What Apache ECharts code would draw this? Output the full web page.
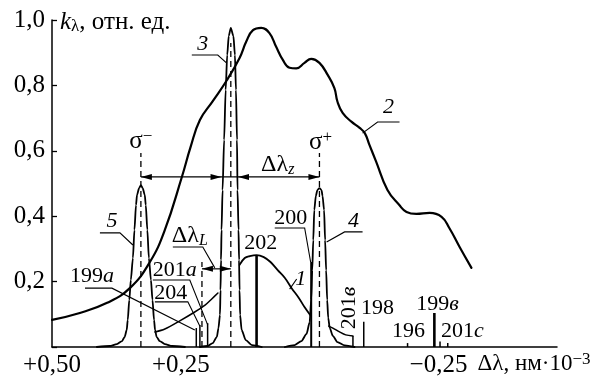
<!DOCTYPE html>
<html>
<head>
<meta charset="utf-8">
<script src="https://cdn.jsdelivr.net/npm/echarts@6/dist/echarts.min.js"></script>
<style>
  html, body { margin: 0; padding: 0; background: #fff; }
  #chart { width: 590px; height: 378px; }
</style>
</head>
<body>
<div id="chart"></div>
<script>
// ---- data: Δλ (нм·10^-3) against kλ (relative units) ----
const xTickValues = [0.5, 0.25, -0.25];
const xTickLabels = ['+0,50', '+0,25', '−0,25'];
const yTickValues = [0.2, 0.4, 0.6, 0.8, 1.0];
const yTickLabels = ['0,2', '0,4', '0,6', '0,8', '1,0'];

// curve 2: broad absorption contour
const curve2 = [
  [0.500, 0.083], [0.446, 0.104], [0.393, 0.135], [0.349, 0.180], [0.310, 0.260],
  [0.281, 0.358], [0.248, 0.520], [0.231, 0.612], [0.213, 0.694], [0.188, 0.752],
  [0.161, 0.815], [0.136, 0.884], [0.123, 0.934], [0.110, 0.969], [0.094, 0.976],
  [0.078, 0.960], [0.065, 0.918], [0.052, 0.878], [0.039, 0.854], [0.026, 0.852],
  [0.010, 0.869], [-0.003, 0.881], [-0.019, 0.869], [-0.035, 0.832], [-0.048, 0.792],
  [-0.054, 0.750], [-0.064, 0.716], [-0.081, 0.689], [-0.097, 0.670], [-0.107, 0.654],
  [-0.116, 0.618], [-0.129, 0.567], [-0.151, 0.480], [-0.174, 0.434], [-0.188, 0.413],
  [-0.207, 0.407], [-0.233, 0.410], [-0.256, 0.398], [-0.271, 0.364], [-0.291, 0.306],
  [-0.314, 0.242]
];

// curve 1: contour of the 202 line
const curve1 = [
  [0.136, 0.251], [0.126, 0.272], [0.116, 0.278], [0.103, 0.281], [0.089, 0.275],
  [0.076, 0.260], [0.062, 0.235], [0.048, 0.211], [0.035, 0.180], [0.021, 0.150],
  [0.010, 0.122], [-0.001, 0.098]
];

// curve 3: π component
const peak3 = [
  [0.213, 0.000], [0.198, 0.003], [0.188, 0.012], [0.180, 0.031], [0.177, 0.058],
  [0.174, 0.098], [0.173, 0.174], [0.172, 0.266], [0.171, 0.358], [0.169, 0.480],
  [0.166, 0.633], [0.163, 0.786], [0.160, 0.893], [0.157, 0.951], [0.153, 0.976],
  [0.148, 0.951], [0.145, 0.893], [0.143, 0.786], [0.141, 0.633], [0.140, 0.480],
  [0.138, 0.358], [0.137, 0.266], [0.136, 0.174], [0.135, 0.098], [0.132, 0.052],
  [0.124, 0.021], [0.112, 0.006], [0.093, 0.000]
];

// curve 4: σ+ component
const peak4 = [
  [0.048, 0.000], [0.029, 0.006], [0.016, 0.018], [0.006, 0.040], [0.000, 0.076],
  [-0.003, 0.144], [-0.005, 0.235], [-0.007, 0.327], [-0.009, 0.419], [-0.012, 0.462],
  [-0.015, 0.480], [-0.019, 0.486], [-0.023, 0.480], [-0.025, 0.462], [-0.028, 0.419],
  [-0.030, 0.327], [-0.032, 0.235], [-0.034, 0.144], [-0.036, 0.089], [-0.039, 0.058],
  [-0.045, 0.034], [-0.054, 0.015], [-0.068, 0.005], [-0.087, 0.000]
];
const wing4 = [[-0.037, 0.064], [-0.045, 0.058], [-0.058, 0.046], [-0.070, 0.037], [-0.084, 0.034]];

// curve 5: σ− component
const peak5 = [
  [0.413, 0.000], [0.388, 0.003], [0.374, 0.009], [0.364, 0.018], [0.359, 0.031],
  [0.355, 0.052], [0.353, 0.083], [0.350, 0.144], [0.347, 0.205], [0.343, 0.272],
  [0.340, 0.358], [0.337, 0.434], [0.335, 0.465], [0.331, 0.486], [0.3275, 0.495],
  [0.324, 0.486], [0.320, 0.465], [0.318, 0.434], [0.315, 0.358], [0.312, 0.272],
  [0.308, 0.205], [0.305, 0.144], [0.302, 0.083], [0.300, 0.052], [0.297, 0.031],
  [0.291, 0.018], [0.281, 0.009], [0.267, 0.003], [0.242, 0.000]
];
const wing5 = [[0.300, 0.046], [0.281, 0.055], [0.252, 0.080], [0.223, 0.107], [0.203, 0.128], [0.190, 0.147], [0.178, 0.165]];

// isotope line positions and intensities
const lineNames   = ['199a', '204', '201a', '202', '200', '201в', '198', '196', '199в', '201c', '201c'];
const linePos     = [0.220, 0.213, 0.198, 0.103, -0.003, -0.084, -0.105, -0.190, -0.242, -0.253, -0.268];
const lineHeights = [0.058, 0.067, 0.073, 0.281, 0.260, 0.034, 0.077, 0.012, 0.104, 0.017, 0.012];

// reference (dashed) positions: σ−, π centre, σ+, 201a reference
const markerPos = [0.3275, 0.153, -0.019, 0.209];
const markerTop = [0.593, 0.930, 0.593, 0.260];

// ---- presentation ----
const FONT = '"Liberation Serif", "Times New Roman", serif';
const stickWidth = lineNames.map(n => (n === '202' || n === '199в') ? 2.6 : (n === '200' ? 2.0 : 1.5));

const rich = {
  s:  { fontSize: 25, fontFamily: FONT, lineHeight: 26 },
  p:  { fontSize: 17, fontFamily: FONT, lineHeight: 14, verticalAlign: 'top' },
  m:  { fontSize: 24, fontFamily: FONT, lineHeight: 26 },
  i:  { fontSize: 16, fontFamily: FONT, fontStyle: 'italic', lineHeight: 14, verticalAlign: 'bottom' },
  c:  { fontSize: 22, fontFamily: FONT, fontStyle: 'italic' },
  n:  { fontSize: 22, fontFamily: FONT },
  c2: { fontSize: 22, fontFamily: FONT, fontStyle: 'italic' },
  k:  { fontSize: 25, fontFamily: FONT, fontStyle: 'italic', lineHeight: 26 },
  l:  { fontSize: 17, fontFamily: FONT, lineHeight: 14, verticalAlign: 'bottom' },
  m2: { fontSize: 25, fontFamily: FONT, lineHeight: 26 },
  m3: { fontSize: 23, fontFamily: FONT, lineHeight: 26 }
};

const notes = [
  { text: '{s|σ}{p|−}', at: [0.3275, 0.630] },
  { text: '{s|σ}{p|+}', at: [-0.0213, 0.627] },
  { text: '{m|Δλ}{i|z}', at: [0.062, 0.557] },
  { text: '{m|Δλ}{i|L}', at: [0.2326, 0.340] },
  { text: '{c|1}', at: [0.0174, 0.208] },
  { text: '{c|2}', at: [-0.153, 0.734] },
  { text: '{c|3}', at: [0.2074, 0.927] },
  { text: '{c|4}', at: [-0.0853, 0.385] },
  { text: '{c|5}', at: [0.3837, 0.385] },
  { text: '{n|202}', at: [0.095, 0.318] },
  { text: '{n|200}', at: [0.0368, 0.394] },
  { text: '{n|199}{c2|a}', at: [0.4225, 0.217] },
  { text: '{n|201}{c2|a}', at: [0.2616, 0.235] },
  { text: '{n|204}', at: [0.2694, 0.165] },
  { text: '{n|198}', at: [-0.1318, 0.119] },
  { text: '{n|199}{c2|в}', at: [-0.248, 0.1315] },
  { text: '{n|196}', at: [-0.1919, 0.049] },
  { text: '{n|201}{c2|c}', at: [-0.2965, 0.049] },
  { text: '{n|201}{c2|в}', at: [-0.0775, 0.119], rotate: true },
  { text: '{k|k}{l|λ}{m2|, отн. ед.}', at: [0.4845, 0.994], align: 'left' },
  { text: '{m3|Δλ, нм·10}{p|−3}', at: [-0.3256, -0.052], align: 'left' }
];

const leaders = [
  [[-0.1744, 0.688], [-0.1318, 0.688], [-0.1027, 0.654]],
  [[0.2287, 0.893], [0.1783, 0.893], [0.1609, 0.868]],
  [[-0.1027, 0.352], [-0.0678, 0.352], [-0.0329, 0.321]],
  [[0.407, 0.349], [0.3682, 0.349], [0.343, 0.312]],
  [[0.0388, 0.177], [0.0252, 0.208]],
  [[0.0678, 0.364], [0.0097, 0.364], [-0.0019, 0.260]],
  [[0.436, 0.180], [0.3837, 0.180], [0.2229, 0.052]],
  [[0.3043, 0.205], [0.2326, 0.205], [0.1977, 0.067]],
  [[0.3004, 0.138], [0.2364, 0.138], [0.2132, 0.064]],
  [[0.2655, 0.306], [0.2074, 0.306], [0.1841, 0.242]]
];

// dimension arrows: [from, to] at level k, with heads (direction -1 = pointing left, +1 = right)
const arrows = [
  { k: 0.520, from: 0.3275, to: -0.019, heads: [[0.3275, -1], [0.171, 1], [0.139, -1], [-0.019, 1]] },
  { k: 0.239, from: 0.209, to: 0.153, heads: [[0.209, -1], [0.153, 1]] }
];

const chart = echarts.init(document.getElementById('chart'), null, { renderer: 'canvas' });

function curve(data, width, smooth, monotone) {
  const s = {
    type: 'line', data: data, showSymbol: false, symbol: 'none',
    smooth: smooth, silent: true, z: 2,
    lineStyle: { color: '#000', width: width, join: 'round', cap: 'round' }
  };
  if (monotone) s.smoothMonotone = 'x';
  return s;
}

const option = {
  animation: false,
  backgroundColor: '#fff',
  grid: { left: 52, right: 33, top: 20, bottom: 31, containLabel: false, outerBoundsMode: 'none' },
  xAxis: {
    type: 'value', inverse: true, min: -0.48, max: 0.5,
    axisLine: { show: true, onZero: false, lineStyle: { color: '#000', width: 1.5 } },
    axisTick: { show: false },
    splitLine: { show: false },
    axisLabel: {
      customValues: xTickValues,
      showMinLabel: true, showMaxLabel: true, hideOverlap: false,
      formatter: v => { const i = xTickValues.findIndex(t => Math.abs(t - v) < 1e-9); return i < 0 ? '' : xTickLabels[i]; },
      color: '#000', fontFamily: FONT, fontSize: 25, margin: 6
    }
  },
  yAxis: {
    type: 'value', min: 0, max: 1, interval: 0.2,
    axisLine: { show: true, onZero: false, lineStyle: { color: '#000', width: 1.5 } },
    axisTick: { show: true, inside: true, length: 5, lineStyle: { color: '#000', width: 1.3 } },
    splitLine: { show: false },
    axisLabel: {
      formatter: v => { const i = yTickValues.findIndex(t => Math.abs(t - v) < 1e-9); return i < 0 ? '' : yTickLabels[i]; },
      color: '#000', fontFamily: FONT, fontSize: 25, margin: 7
    }
  },
  series: [
    curve(curve2, 2.2, 0.45, false),
    curve(curve1, 1.8, 0.4, false),
    curve(peak3, 1.8, 0.25, true),
    curve(peak4, 1.8, 0.25, true),
    curve(wing4, 1.5, 0.3, false),
    curve(peak5, 1.8, 0.25, true),
    curve(wing5, 1.5, 0.3, false),
    {
      // isotope lines
      type: 'custom', coordinateSystem: 'cartesian2d', clip: false, silent: true, z: 3,
      data: linePos.map((d, i) => [d, lineHeights[i]]),
      renderItem: (params, api) => {
        const p0 = api.coord([api.value(0), 0]);
        const p1 = api.coord([api.value(0), api.value(1)]);
        return { type: 'line', shape: { x1: p0[0], y1: p0[1], x2: p1[0], y2: p1[1] },
                 style: { stroke: '#000', lineWidth: stickWidth[params.dataIndex] } };
      }
    },
    {
      // dashed reference positions
      type: 'custom', coordinateSystem: 'cartesian2d', clip: false, silent: true, z: 3,
      data: markerPos.map((d, i) => [d, markerTop[i]]),
      renderItem: (params, api) => {
        const p0 = api.coord([api.value(0), 0]);
        const p1 = api.coord([api.value(0), api.value(1)]);
        return { type: 'line', shape: { x1: p0[0], y1: p0[1], x2: p1[0], y2: p1[1] },
                 style: { stroke: '#000', lineWidth: 1.3, lineDash: [6, 4] } };
      }
    },
    {
      // labels, leader lines and dimension arrows
      type: 'custom', coordinateSystem: 'cartesian2d', clip: false, silent: true, z: 4,
      data: [[0, 0]],
      renderItem: (params, api) => {
        const P = (d, k) => api.coord([d, k]);
        const children = [];
        leaders.forEach(pts => children.push({
          type: 'polyline', shape: { points: pts.map(p => P(p[0], p[1])) },
          style: { stroke: '#000', lineWidth: 1.1, fill: null }
        }));
        arrows.forEach(a => {
          const p0 = P(a.from, a.k), p1 = P(a.to, a.k);
          children.push({ type: 'line', shape: { x1: p0[0], y1: p0[1], x2: p1[0], y2: p1[1] },
                          style: { stroke: '#000', lineWidth: 1.2 } });
          a.heads.forEach(h => {
            const t = P(h[0], a.k), s = h[1];
            children.push({ type: 'polygon',
              shape: { points: [[t[0], t[1]], [t[0] - s * 11, t[1] - 3], [t[0] - s * 11, t[1] + 3]] },
              style: { fill: '#000' } });
          });
        });
        notes.forEach(n => {
          const p = P(n.at[0], n.at[1]);
          children.push({
            type: 'text', x: p[0], y: p[1], rotation: n.rotate ? Math.PI / 2 : 0,
            style: { text: n.text, rich: rich, fill: '#000',
                     align: n.align || 'center', verticalAlign: 'middle' }
          });
        });
        return { type: 'group', children: children };
      }
    }
  ]
};

chart.setOption(option);
</script>
</body>
</html>
